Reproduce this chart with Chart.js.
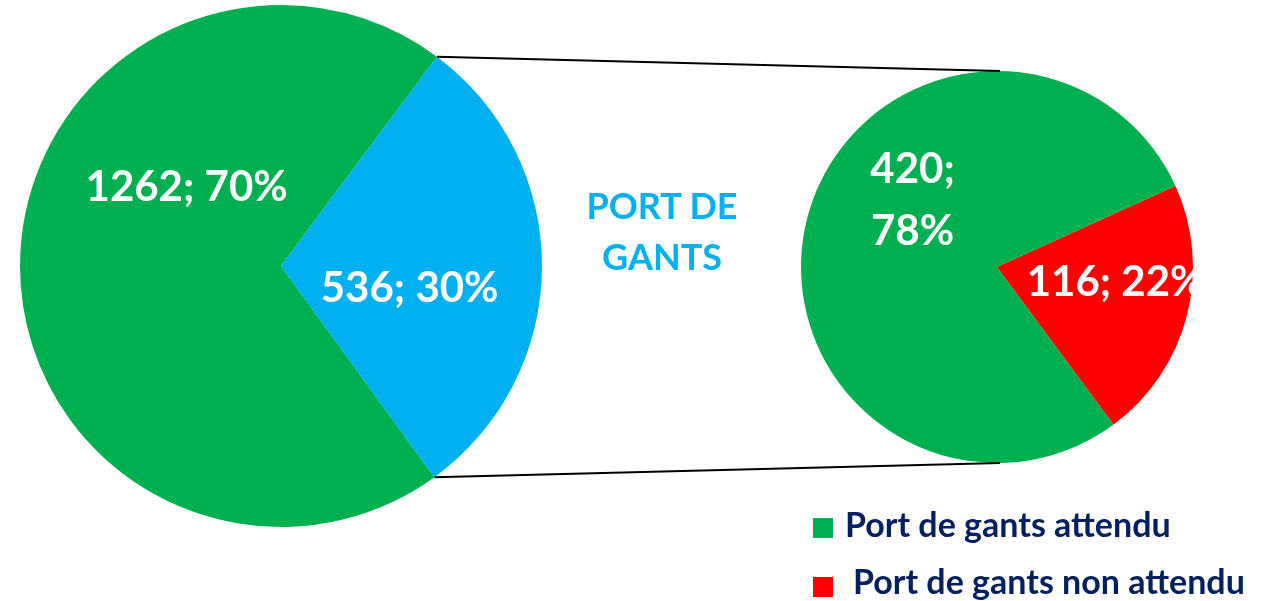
<!DOCTYPE html>
<html>
<head>
<meta charset="utf-8">
<script src="https://cdn.jsdelivr.net/npm/chart.js@4"></script>
<style>
  body { margin: 0; background: #fff; font-family: Lato, "Open Sans", sans-serif; }
  #wrap { position: relative; width: 1268px; height: 601px; overflow: hidden; }
  canvas { position: absolute; left: 0; top: 0; }
  .title { position: absolute; left: 562px; top: 180px; width: 200px; text-align: center;
           color: #00b0f0; font-weight: 700; font-size: 36px; line-height: 51px; }
  .legend-text { position: absolute; font-weight: 700; font-size: 34px; line-height: 40px; color: #002060; white-space: nowrap; }
  .legend-box { position: absolute; width: 20px; height: 20px; }
</style>
</head>
<body>
<div id="wrap">
  <canvas id="mainPie" width="1268" height="601"></canvas>
  <canvas id="subPie" width="1268" height="601"></canvas>
  <div class="title">PORT DE<br>GANTS</div>
  <div id="legend"></div>
</div>
<script>
// main pie: all observations, the blue part is split in the second pie
const mainLabels = ["Autres", "Port de gants"];
const mainValues = [1262, 536];
const mainPercents = [70, 30];

// second pie: port de gants
const subLabels = ["Port de gants attendu", "Port de gants non attendu"];
const subValues = [420, 116];
const subPercents = [78, 22];

const GREEN = "#00b050";
const BLUE = "#00b0f0";
const RED = "#ff0000";

// label placement per slice: [angle from top in degrees, fraction of radius]
const mainLabelPos = [[309.7, 0.47], [99.7, 0.5]];
const subLabelPos = [[308.4, 0.55], [97.2, 0.61]];

const labelFont = "700 42px Lato, 'Open Sans', sans-serif";

function sliceLabels(pos, values, percents, multiline) {
  return {
    id: "sliceLabels",
    afterDatasetsDraw(chart) {
      const meta = chart.getDatasetMeta(0);
      const ctx = chart.ctx;
      ctx.save();
      ctx.fillStyle = "#fff";
      ctx.font = labelFont;
      ctx.textAlign = "center";
      ctx.textBaseline = "middle";
      meta.data.forEach((arc, i) => {
        const a = (pos[i][0] - 90) * Math.PI / 180;
        const r = arc.outerRadius * pos[i][1];
        const x = arc.x + Math.cos(a) * r;
        const y = arc.y + Math.sin(a) * r;
        if (multiline[i]) {
          ctx.fillText(values[i] + ";", x, y - 31);
          ctx.fillText(percents[i] + "%", x, y + 31);
        } else {
          ctx.fillText(values[i] + "; " + percents[i] + "%", x, y);
        }
      });
      ctx.restore();
    },
  };
}

const mainChart = new Chart(document.getElementById("mainPie"), {
  type: "pie",
  data: {
    labels: mainLabels,
    datasets: [{ data: mainValues, backgroundColor: [GREEN, BLUE], borderWidth: 0 }],
  },
  options: {
    responsive: false,
    animation: false,
    rotation: 144,
    layout: { padding: { left: 20, right: 726, top: 5, bottom: 74 } },
    plugins: { legend: { display: false }, tooltip: { enabled: false } },
  },
  plugins: [sliceLabels(mainLabelPos, mainValues, mainPercents, [false, false])],
});

// connector lines from the blue slice to the second pie
const connectors = {
  id: "connectors",
  afterDraw(chart) {
    const blue = mainChart.getDatasetMeta(0).data[1];
    const sub = chart.getDatasetMeta(0).data[0];
    if (!blue || !sub) return;
    const ctx = chart.ctx;
    ctx.save();
    ctx.strokeStyle = "#000";
    ctx.lineWidth = 2;
    ctx.beginPath();
    ctx.moveTo(blue.x + Math.cos(blue.startAngle) * blue.outerRadius, blue.y + Math.sin(blue.startAngle) * blue.outerRadius);
    ctx.lineTo(sub.x + 3, sub.y - sub.outerRadius);
    ctx.moveTo(blue.x + Math.cos(blue.endAngle) * blue.outerRadius, blue.y + Math.sin(blue.endAngle) * blue.outerRadius);
    ctx.lineTo(sub.x + 3, sub.y + sub.outerRadius);
    ctx.stroke();
    ctx.restore();
  },
};

new Chart(document.getElementById("subPie"), {
  type: "pie",
  data: {
    labels: subLabels,
    datasets: [{ data: subValues, backgroundColor: [GREEN, RED], borderWidth: 0 }],
  },
  options: {
    responsive: false,
    animation: false,
    rotation: 143.5,
    layout: { padding: { left: 801, right: 75, top: 71, bottom: 138 } },
    plugins: { legend: { display: false }, tooltip: { enabled: false } },
  },
  plugins: [connectors, sliceLabels(subLabelPos, subValues, subPercents, [true, false])],
});

// legend
const legendColors = [GREEN, RED];
const legendBoxPos = [[813, 518], [813, 577]];
const legendTextPos = [[845, 504], [853, 561]];
const legend = document.getElementById("legend");
subLabels.forEach((label, i) => {
  const box = document.createElement("div");
  box.className = "legend-box";
  box.style.left = legendBoxPos[i][0] + "px";
  box.style.top = legendBoxPos[i][1] + "px";
  box.style.background = legendColors[i];
  legend.appendChild(box);
  const text = document.createElement("div");
  text.className = "legend-text";
  text.style.left = legendTextPos[i][0] + "px";
  text.style.top = legendTextPos[i][1] + "px";
  text.textContent = label;
  legend.appendChild(text);
});
</script>
</body>
</html>
